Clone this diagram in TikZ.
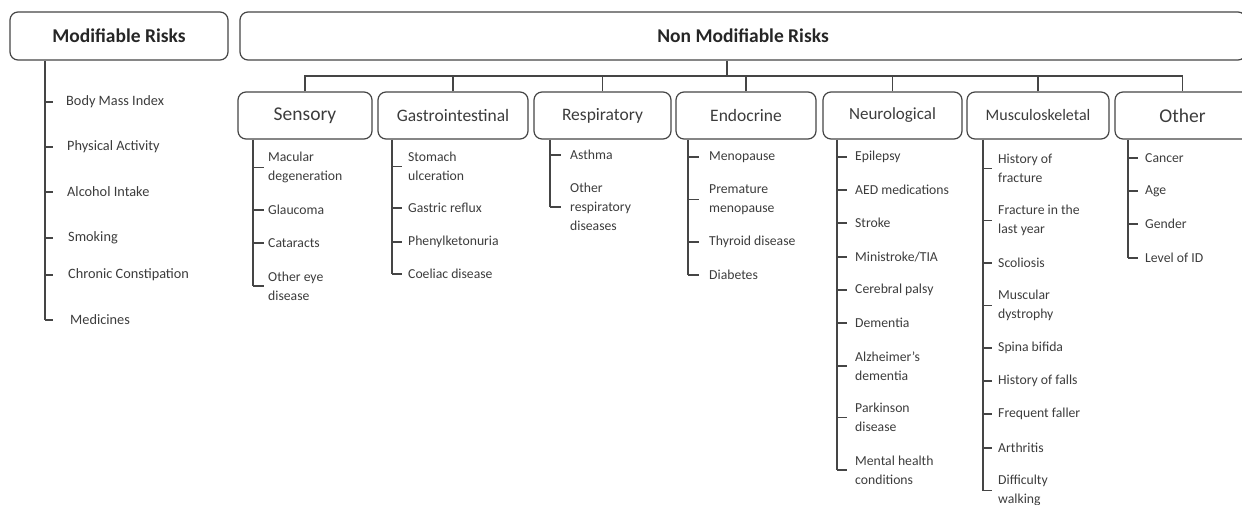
\documentclass[tikz,border=0pt]{standalone}
\usepackage{fontspec}
\setmainfont{Carlito}
\usetikzlibrary{positioning}
\definecolor{linegray}{HTML}{454545}
\definecolor{textgray}{HTML}{3C3C3C}
\tikzset{
  riskbox/.style={draw=linegray, line width=1.2pt, rounded corners=8pt, minimum height=48pt, inner sep=0pt, font=\fontsize{19.5}{22}\selectfont\bfseries, text=black!85},
  catbox/.style={draw=linegray, line width=1.2pt, rounded corners=8pt, minimum height=47pt, inner sep=0pt, font=\fontsize{17.5}{20}\selectfont, text=textgray},
  item/.style={anchor=west, inner sep=0pt, align=left, font=\fontsize{13.7}{19}\selectfont, text=textgray},
  link/.style={draw=linegray, line width=1.1pt}
}
\begin{document}
\begin{tikzpicture}[x=1pt, y=-1pt]
\useasboundingbox (0,0) rectangle (1242,505);

% top level
\node[riskbox, minimum width=218pt] (mod) at (119,36) {Modifiable Risks};
\node[riskbox, minimum width=1006pt] (nonmod) at (743,36) {Non Modifiable Risks};

% categories
\node[catbox, minimum width=134pt, font=\fontsize{19.5}{22}\selectfont] (sens) at (305,115.5) {Sensory};
\node[catbox, minimum width=150pt] (gas) at (453,115.5) {Gastrointestinal};
\node[catbox, minimum width=137pt] (resp) at (602.5,115.5) {Respiratory};
\node[catbox, minimum width=140pt] (endo) at (746,115.5) {Endocrine};
\node[catbox, minimum width=139pt, font=\fontsize{17}{20}\selectfont] (neur) at (892.5,115.5) {Neurological};
\node[catbox, minimum width=142pt, font=\fontsize{16}{19}\selectfont] (musc) at (1038,115.5) {Musculoskeletal};
\node[catbox, minimum width=135pt, font=\fontsize{19.5}{22}\selectfont] (oth) at (1182.5,115.5) {Other};

\coordinate (bus) at (727,76);
\draw[link] (nonmod.south -| bus) -- (bus);
\draw[link] (sens.north) |- (bus) -| (oth.north);
\foreach \c in {gas,resp,endo,neur,musc}
  \draw[link] (\c.north) -- (\c.north |- bus);

% modifiable risks
\coordinate (modx) at (45,0);
\node[item, font=\fontsize{14.3}{19}\selectfont] (mod1) at (66,102) {Body Mass Index};
\node[item, font=\fontsize{14.3}{19}\selectfont] (mod2) at (67,147) {Physical Activity};
\node[item, font=\fontsize{14.3}{19}\selectfont] (mod3) at (67,192) {Alcohol Intake};
\node[item, font=\fontsize{14.3}{19}\selectfont] (mod4) at (68,238) {Smoking};
\node[item, font=\fontsize{14.3}{19}\selectfont] (mod5) at (68,275) {Chronic Constipation};
\node[item, font=\fontsize{14.3}{19}\selectfont] (mod6) at (70,320) {Medicines};
\draw[link] (mod.south -| modx) -- (mod6.west -| modx);
\foreach \i in {1,...,6}
  \draw[link] (mod\i.west -| modx) -- ++(8,0);

% sensory
\coordinate (sensx) at (253,0);
\node[item] (sens1) at (268,167.5) {Macular\\degeneration};
\node[item] (sens2) at (268,210) {Glaucoma};
\node[item] (sens3) at (268,243) {Cataracts};
\node[item] (sens4) at (268,286) {Other eye\\disease};
\draw[link] (sens.south -| sensx) -- (sens4.west -| sensx);
\foreach \i in {1,...,4}
  \draw[link] (sens\i.west -| sensx) -- ++(11,0);

% gastrointestinal
\coordinate (gasx) at (392,0);
\node[item] (gas1) at (408,166.5) {Stomach\\ulceration};
\node[item] (gas2) at (408,208) {Gastric reflux};
\node[item] (gas3) at (408,242) {Phenylketonuria};
\node[item] (gas4) at (408,274) {Coeliac disease};
\draw[link] (gas.south -| gasx) -- (gas4.west -| gasx);
\foreach \i in {1,...,4}
  \draw[link] (gas\i.west -| gasx) -- ++(10,0);

% respiratory
\coordinate (respx) at (550,0);
\node[item] (resp1) at (570,155) {Asthma};
\node[item] (resp2) at (570,207) {Other\\respiratory\\diseases};
\draw[link] (resp.south -| respx) -- (resp2.west -| respx);
\foreach \i in {1,2}
  \draw[link] (resp\i.west -| respx) -- ++(11,0);

% endocrine
\coordinate (endox) at (688,0);
\node[item] (endo1) at (709,157) {Menopause};
\node[item] (endo2) at (709,199.5) {Premature\\menopause};
\node[item] (endo3) at (709,242) {Thyroid disease};
\node[item] (endo4) at (709,275) {Diabetes};
\draw[link] (endo.south -| endox) -- (endo4.west -| endox);
\foreach \i in {1,...,4}
  \draw[link] (endo\i.west -| endox) -- ++(11,0);

% neurological
\coordinate (neurx) at (837,0);
\node[item] (neur1) at (855,157) {Epilepsy};
\node[item] (neur2) at (855,190) {AED medications};
\node[item] (neur3) at (855,223) {Stroke};
\node[item] (neur4) at (855,257) {Ministroke/TIA};
\node[item] (neur5) at (855,290) {Cerebral palsy};
\node[item] (neur6) at (855,323) {Dementia};
\node[item] (neur7) at (855,366) {Alzheimer's\\dementia};
\node[item] (neur8) at (855,417.5) {Parkinson\\disease};
\node[item] (neur9) at (855,470) {Mental health\\conditions};
\draw[link] (neur.south -| neurx) -- (neur9.west -| neurx);
\foreach \i in {1,...,9}
  \draw[link] (neur\i.west -| neurx) -- ++(10,0);

% musculoskeletal
\coordinate (muscx) at (983,0);
\node[item] (musc1) at (998,168.5) {History of\\fracture};
\node[item] (musc2) at (998,220.5) {Fracture in the\\last year};
\node[item] (musc3) at (998,263) {Scoliosis};
\node[item] (musc4) at (998,305.5) {Muscular\\dystrophy};
\node[item] (musc5) at (998,348) {Spina bifida};
\node[item] (musc6) at (998,381) {History of falls};
\node[item] (musc7) at (998,414) {Frequent faller};
\node[item] (musc8) at (998,448) {Arthritis};
\node[item] (musc9) at (998,490.5) {Difficulty\\walking};
\draw[link] (musc.south -| muscx) -- (musc9.west -| muscx);
\foreach \i in {1,...,9}
  \draw[link] (musc\i.west -| muscx) -- ++(9,0);

% other
\coordinate (othx) at (1128,0);
\node[item] (oth1) at (1145,158) {Cancer};
\node[item] (oth2) at (1145,191) {Age};
\node[item] (oth3) at (1145,224) {Gender};
\node[item] (oth4) at (1145,258) {Level of ID};
\draw[link] (oth.south -| othx) -- (oth4.west -| othx);
\foreach \i in {1,...,4}
  \draw[link] (oth\i.west -| othx) -- ++(10,0);
\end{tikzpicture}
\end{document}
